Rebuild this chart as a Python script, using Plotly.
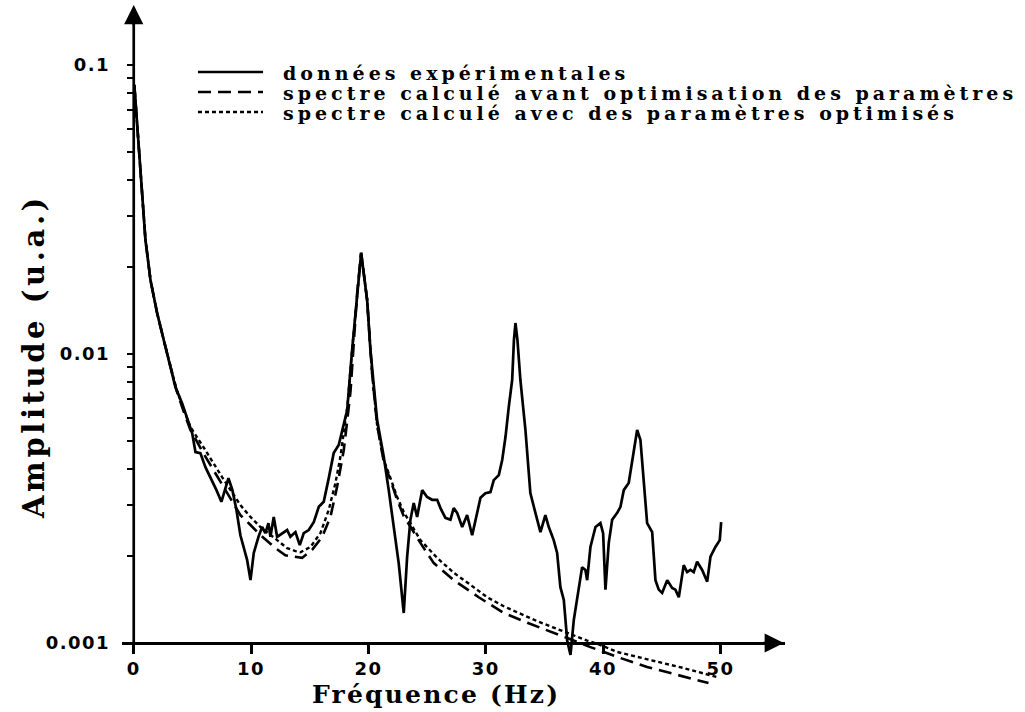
import plotly.graph_objects as go

# Measured spectrum: frequency (Hz) and amplitude (a.u.)
freq_exp = [0.05, 0.57, 1.0, 1.43, 1.99, 2.56, 3.13, 3.55, 4.12, 4.55,
            4.98, 5.26, 5.68, 6.11, 6.68, 7.05, 7.47, 7.81, 8.07, 8.41,
            8.75, 9.09, 9.66, 9.95, 10.23, 10.63, 10.94, 11.22, 11.48, 11.65,
            11.93, 12.22, 12.65, 13.07, 13.35, 13.78, 14.15, 14.49, 14.91, 15.34,
            15.77, 16.19, 16.62, 17.04, 17.47, 17.76, 18.19, 18.61, 19.04, 19.38,
            19.89, 20.17, 20.74, 21.31, 21.73, 22.16, 22.58, 23.01, 23.30, 23.58,
            23.86, 24.15, 24.58, 25.00, 25.43, 25.86, 26.14, 26.56, 26.99, 27.27,
            27.56, 27.99, 28.41, 28.84, 29.12, 29.55, 29.97, 30.40, 30.68, 31.11,
            31.40, 31.68, 31.96, 32.25, 32.40, 32.53, 32.70, 32.95, 33.38, 33.80,
            34.23, 34.66, 35.08, 35.37, 35.79, 36.08, 36.36, 36.65, 36.94, 37.22,
            37.50, 37.92, 38.21, 38.49, 38.64, 38.92, 39.35, 39.77, 40.00, 40.20,
            40.48, 40.77, 41.20, 41.48, 41.76, 42.18, 42.47, 42.90, 43.18, 43.46,
            43.75, 44.18, 44.46, 44.74, 45.03, 45.46, 45.88, 46.16, 46.45, 46.87,
            47.16, 47.44, 47.72, 48.01, 48.44, 48.87, 49.15, 49.57, 49.94, 50.06]
amp_exp = [0.0853, 0.0416, 0.0248, 0.0180, 0.01387, 0.01117, 0.00902, 0.00769, 0.00676, 0.00605,
           0.00533, 0.00458, 0.00454, 0.00406, 0.00366, 0.00338, 0.00308, 0.00344, 0.00372, 0.00338,
           0.00289, 0.00236, 0.00194, 0.00165, 0.00205, 0.00233, 0.00252, 0.00240, 0.00260, 0.00233,
           0.00273, 0.00233, 0.00240, 0.00246, 0.00233, 0.00242, 0.00218, 0.00240, 0.00246, 0.00262,
           0.00296, 0.00308, 0.00372, 0.00454, 0.00484, 0.00546, 0.00640, 0.01032, 0.01626, 0.0224,
           0.01538, 0.01032, 0.00591, 0.00440, 0.00338, 0.00246, 0.00189, 0.00127, 0.00199, 0.00267,
           0.00305, 0.00273, 0.00338, 0.00320, 0.00313, 0.00313, 0.00293, 0.00271, 0.00267, 0.00293,
           0.00282, 0.00252, 0.00277, 0.00236, 0.00267, 0.00318, 0.00330, 0.00333, 0.00366, 0.00381,
           0.00430, 0.00516, 0.00656, 0.00813, 0.01117, 0.0128, 0.01117, 0.00813, 0.00546, 0.00330,
           0.00282, 0.00242, 0.00277, 0.00252, 0.00227, 0.00205, 0.00156, 0.00141, 0.00102, 0.00091,
           0.00120, 0.00156, 0.00183, 0.00179, 0.00165, 0.00215, 0.00252, 0.00260, 0.00240, 0.00153,
           0.00222, 0.00267, 0.00282, 0.00296, 0.00338, 0.00358, 0.00420, 0.00546, 0.00504, 0.00366,
           0.00260, 0.00242, 0.00165, 0.00153, 0.00149, 0.00165, 0.00155, 0.00153, 0.00144, 0.00186,
           0.00176, 0.00179, 0.00176, 0.00191, 0.00179, 0.00163, 0.00199, 0.00215, 0.00227, 0.00262]

# Spectrum computed with the initial parameters
freq_init = [0.05, 0.57, 1.0, 1.43, 1.99, 2.56, 3.13, 3.64, 4.24, 4.83,
             6.03, 7.53, 9.09, 9.95, 10.80, 12.07, 12.92, 14.35, 15.20, 16.06,
             16.76, 17.33, 17.90, 18.13, 18.47, 19.04, 19.38, 19.89, 20.32, 20.74,
             21.31, 21.88, 22.45, 23.01, 23.58, 24.43, 25.57, 27.27, 29.40, 31.53,
             33.66, 35.79, 37.22, 38.92, 41.20, 43.75, 46.31, 48.98]
amp_init = [0.0853, 0.0416, 0.0248, 0.0180, 0.01387, 0.01117, 0.00902, 0.00750, 0.00635, 0.00546,
            0.00447, 0.00352, 0.00277, 0.00256, 0.00236, 0.00213, 0.00201, 0.00197, 0.00210, 0.00233,
            0.00273, 0.00347, 0.00465, 0.00559, 0.00739, 0.01626, 0.0224, 0.01538, 0.0085, 0.00568,
            0.00423, 0.00366, 0.00313, 0.00275, 0.00252, 0.00222, 0.00189, 0.00165, 0.00144, 0.00127,
            0.00117, 0.00108, 0.00103, 0.000968, 0.000895, 0.000826, 0.000775, 0.000727]

# Spectrum computed with the optimised parameters
freq_opt = [0.05, 0.57, 1.0, 1.43, 1.99, 2.56, 3.13, 3.64, 4.24, 4.83,
            6.03, 7.53, 9.09, 9.95, 10.80, 11.93, 13.07, 13.78, 14.21, 15.06,
            15.91, 16.62, 17.19, 17.61, 17.90, 18.22, 18.61, 19.04, 19.38, 19.89,
            20.32, 20.74, 21.31, 21.88, 22.45, 23.01, 23.58, 24.43, 25.86, 27.27,
            28.69, 30.12, 31.53, 32.96, 34.38, 35.79, 37.22, 38.64, 39.77, 41.20,
            44.03, 46.87, 49.72]
amp_opt = [0.0853, 0.0416, 0.0248, 0.0180, 0.01387, 0.01117, 0.00902, 0.00757, 0.00645, 0.00559,
           0.00470, 0.00375, 0.00300, 0.00273, 0.00252, 0.00231, 0.00213, 0.00208, 0.00206, 0.00215,
           0.00240, 0.00289, 0.00358, 0.00440, 0.00546, 0.00666, 0.01032, 0.01626, 0.0224, 0.01538,
           0.0085, 0.00568, 0.00430, 0.00372, 0.00320, 0.00284, 0.00260, 0.00227, 0.00197, 0.00175,
           0.00159, 0.00144, 0.00134, 0.00126, 0.00119, 0.00113, 0.00107, 0.00102, 0.000984, 0.000931,
           0.000873, 0.000819, 0.000762]

x_ticks = [0, 10, 20, 30, 40, 50]
y_decades = [0.001, 0.01, 0.1]
y_labels = ["0.001", "0.01", "0.1"]
legend_labels = ["données expérimentales",
                 "spectre calculé avant optimisation des paramètres",
                 "spectre calculé avec des paramètres optimisés"]
x_title = "Fréquence (Hz)"
y_title = "Amplitude (u.a.)"

# ---- page geometry ----
W, H = 1025, 712
ML, MR, MT, MB = 122, 240, 5, 22
X_RANGE = [-1.0, 55.5]
Y_RANGE = [-3.1626, -0.7924]          # log10 units
PW, PH = W - ML - MR, H - MT - MB


def px(xp):
    """pixel column -> paper x"""
    return (xp - ML) / PW


def py(yp):
    """pixel row -> paper y"""
    return (H - MB - yp) / PH


def spaced(text, gap):
    """wide, typewriter-like lettering"""
    return f'<span style="letter-spacing:{gap}px">{text}</span>'


x_axis_pos = (-3 - Y_RANGE[0]) / (Y_RANGE[1] - Y_RANGE[0])   # x axis sits at 0.001
y_axis_pos = (0 - X_RANGE[0]) / (X_RANGE[1] - X_RANGE[0])    # y axis sits at 0 Hz

# minor + major log ticks, labels only on decades
y_tickvals, y_ticktext = [], []
for d in y_decades[:-1]:
    for m in range(1, 10):
        y_tickvals.append(round(d * m, 6))
        y_ticktext.append(spaced(y_labels[y_decades.index(d)], 1.5) if m == 1 else "")
y_tickvals.append(y_decades[-1])
y_ticktext.append(spaced(y_labels[-1], 1.5))
x_ticktext = [spaced(str(v), 1.5) for v in x_ticks]

SERIF = "DejaVu Serif"
SANS = "DejaVu Sans"
INK = "black"

fig = go.Figure()
fig.add_trace(go.Scatter(x=freq_exp, y=amp_exp, mode="lines", name=legend_labels[0],
                         line=dict(color=INK, width=2.7)))
fig.add_trace(go.Scatter(x=freq_init, y=amp_init, mode="lines", name=legend_labels[1],
                         line=dict(color=INK, width=2.6, dash="13px,7px")))
fig.add_trace(go.Scatter(x=freq_opt, y=amp_opt, mode="lines", name=legend_labels[2],
                         line=dict(color=INK, width=2.4, dash="4px,3px")))

fig.update_layout(
    width=W, height=H, autosize=False,
    margin=dict(l=ML, r=MR, t=MT, b=MB, pad=0),
    paper_bgcolor="white", plot_bgcolor="white",
    showlegend=False,
    xaxis=dict(range=X_RANGE, tickvals=x_ticks, ticktext=x_ticktext, ticks="outside",
               ticklen=9, tickwidth=2.5, tickcolor=INK, showline=True, linewidth=2.7,
               linecolor=INK, showgrid=False, zeroline=False,
               anchor="free", position=x_axis_pos,
               tickfont=dict(family=SANS, size=18, color=INK, weight="bold")),
    yaxis=dict(type="log", range=Y_RANGE, tickvals=y_tickvals, ticktext=y_ticktext,
               ticks="outside", ticklen=7, tickwidth=2, tickcolor=INK,
               showline=False, showgrid=False, zeroline=False,
               anchor="free", position=y_axis_pos, ticklabelstandoff=13,
               tickfont=dict(family=SANS, size=18, color=INK, weight="bold")),
)

# vertical axis line from 0.001 upward, with arrowheads on both axes
fig.add_shape(type="line", xref="x", yref="paper", x0=0, x1=0,
              y0=x_axis_pos, y1=0.985, line=dict(color=INK, width=2.7))
fig.add_annotation(xref="x", yref="paper", x=0, y=1.0, text="", showarrow=True,
                   ax=0, ay=22, arrowhead=2, arrowsize=1.6, arrowwidth=2.4,
                   arrowcolor=INK, standoff=0)
fig.add_annotation(xref="x", yref="paper", x=X_RANGE[1] - 0.1, y=x_axis_pos, text="",
                   showarrow=True, ax=-22, ay=0, arrowhead=2, arrowsize=1.6,
                   arrowwidth=2.4, arrowcolor=INK, standoff=0)

# legend: line samples and labels
sample_dash = ["solid", "13px,7px", "4px,3px"]
legend_rows = [73, 93, 113]
for lab, dash, row in zip(legend_labels, sample_dash, legend_rows):
    fig.add_shape(type="line", xref="paper", yref="paper",
                  x0=px(198), x1=px(263), y0=py(row - 1), y1=py(row - 1),
                  line=dict(color=INK, width=2.4, dash=dash))
    fig.add_annotation(xref="paper", yref="paper", x=px(281), y=py(row),
                       xanchor="left", yanchor="middle", text=spaced(lab, 4.0),
                       showarrow=False,
                       font=dict(family=SERIF, size=19, color=INK, weight="bold"))

# axis titles
fig.add_annotation(xref="paper", yref="paper", x=px(436), y=py(694),
                   xanchor="center", yanchor="middle", text=spaced(x_title, 2.2),
                   showarrow=False,
                   font=dict(family=SERIF, size=25, color=INK, weight="bold"))
fig.add_annotation(xref="paper", yref="paper", x=px(34), y=py(357),
                   xanchor="center", yanchor="middle", text=spaced(y_title, 3.6),
                   showarrow=False, textangle=-90,
                   font=dict(family=SERIF, size=29, color=INK, weight="bold"))

fig.write_html("out.html")
